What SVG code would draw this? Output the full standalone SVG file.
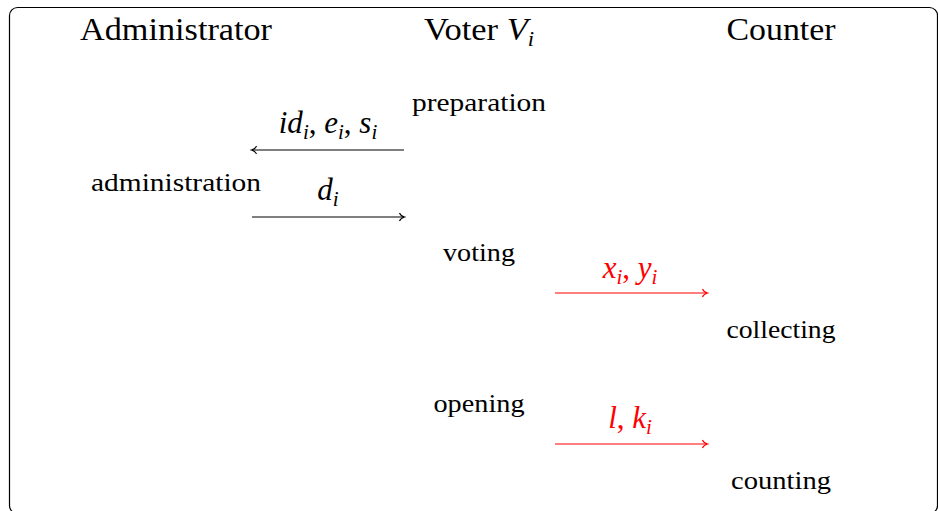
<svg xmlns="http://www.w3.org/2000/svg" width="938" height="511" viewBox="0 0 938 511">
<style>
text{font-family:"Liberation Serif","Times New Roman",serif;fill:#000;text-anchor:middle}
.h{font-size:32px}
.l{font-size:26px}
.m{font-size:31px;font-style:italic}
.s{font-size:21px}
.red{fill:#ff0000}
.c{stroke:#000;stroke-width:1.2;fill:none}
.cr{stroke:#ff0000;stroke-width:1.2;fill:none}
</style>
<defs>
<marker id="ak" viewBox="-6 -5 8 10" refX="0" refY="0" markerWidth="8" markerHeight="10" markerUnits="userSpaceOnUse" orient="auto">
<path d="M-4.5,-4 C-3.5,-1.5 -1,-0.4 0.5,0 C-1,0.4 -3.5,1.5 -4.5,4" fill="none" stroke="#000" stroke-width="1.1"/>
</marker>
<marker id="ar" viewBox="-6 -5 8 10" refX="0" refY="0" markerWidth="8" markerHeight="10" markerUnits="userSpaceOnUse" orient="auto">
<path d="M-4.5,-4 C-3.5,-1.5 -1,-0.4 0.5,0 C-1,0.4 -3.5,1.5 -4.5,4" fill="none" stroke="#ff0000" stroke-width="1.1"/>
</marker>
</defs>
<rect x="9.5" y="7.5" width="928" height="506" rx="8" fill="#fff" stroke="#000" stroke-width="1.2"/>
<g id="admin">
<text class="h" x="176" y="40" textLength="192" lengthAdjust="spacingAndGlyphs">Administrator</text>
<text class="l" x="176" y="191" textLength="170" lengthAdjust="spacingAndGlyphs">administration</text>
</g>
<g id="voter">
<text class="h" x="479" y="40" textLength="110" lengthAdjust="spacingAndGlyphs"><tspan>Voter </tspan><tspan font-style="italic">V</tspan><tspan class="s" font-style="italic" dy="6">i</tspan></text>
<text class="l" x="479" y="111" textLength="134" lengthAdjust="spacingAndGlyphs">preparation</text>
<text class="l" x="479" y="261" textLength="72" lengthAdjust="spacingAndGlyphs">voting</text>
<text class="l" x="479" y="412" textLength="91" lengthAdjust="spacingAndGlyphs">opening</text>
</g>
<g id="counter">
<text class="h" x="781" y="40" textLength="109" lengthAdjust="spacingAndGlyphs">Counter</text>
<text class="l" x="781" y="338" textLength="109" lengthAdjust="spacingAndGlyphs">collecting</text>
<text class="l" x="781" y="489" textLength="100" lengthAdjust="spacingAndGlyphs">counting</text>
</g>
<g id="connectors">
<line class="c" x1="404" y1="150" x2="252" y2="150" marker-end="url(#ak)"/>
<text class="m" x="328" y="133">id<tspan class="s" dy="6">i</tspan><tspan dy="-6" font-style="normal">, </tspan>e<tspan class="s" dy="6">i</tspan><tspan dy="-6" font-style="normal">, </tspan>s<tspan class="s" dy="6">i</tspan></text>
<line class="c" x1="252" y1="217" x2="404" y2="217" marker-end="url(#ak)"/>
<text class="m" x="328" y="200">d<tspan class="s" dy="6">i</tspan></text>
<line class="cr" x1="555" y1="293" x2="707" y2="293" marker-end="url(#ar)"/>
<text class="m red" x="630" y="278">x<tspan class="s" dy="6">i</tspan><tspan dy="-6" font-style="normal">, </tspan>y<tspan class="s" dy="6">i</tspan></text>
<line class="cr" x1="555" y1="444" x2="707" y2="444" marker-end="url(#ar)"/>
<text class="m red" x="630" y="428">l<tspan font-style="normal">, </tspan>k<tspan class="s" dy="6">i</tspan></text>
</g>
</svg>
